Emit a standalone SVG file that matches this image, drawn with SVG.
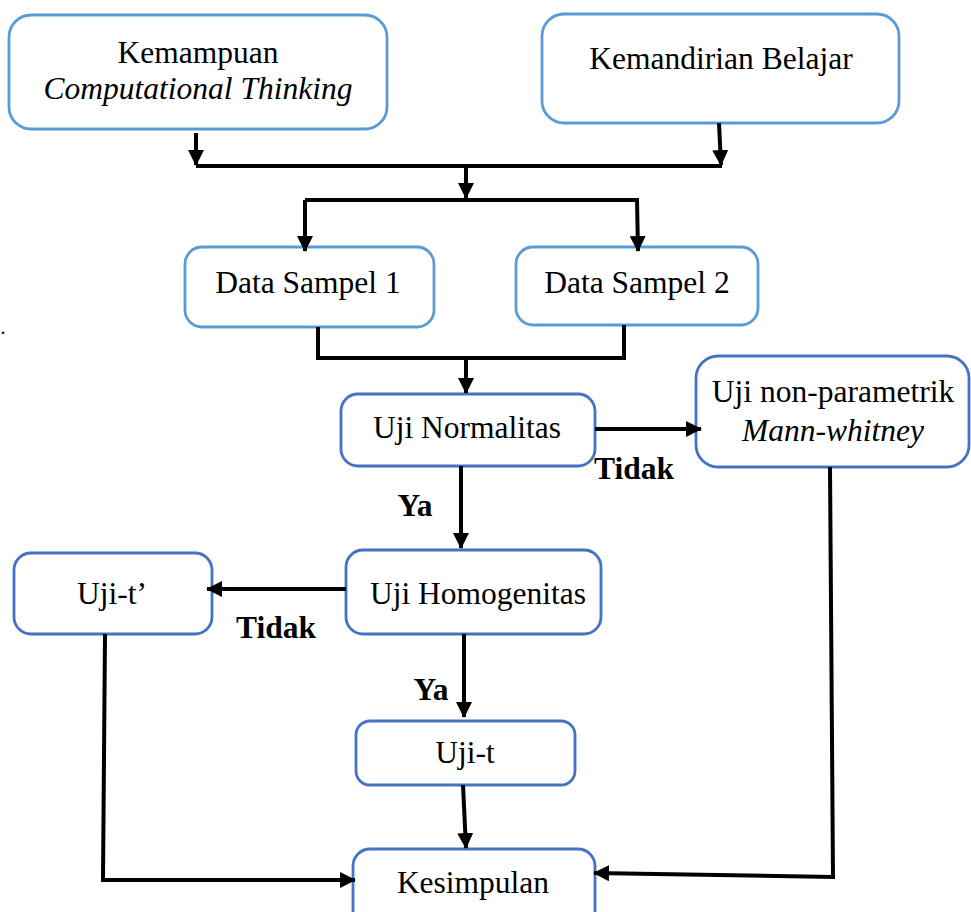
<svg xmlns="http://www.w3.org/2000/svg" width="971" height="912" viewBox="0 0 971 912">
<style>
.box{fill:#fff;stroke-width:2.8}
.lb{stroke:#5B9BD5}
.db{stroke:#4472C4}
.t{font-family:"Liberation Serif","Times New Roman",serif;font-size:31.5px;fill:#000;text-anchor:middle}
.i{font-style:italic}
.b{font-weight:bold}
.c{fill:none;stroke:#000;stroke-width:4;stroke-linejoin:miter}
</style>
<defs>
<marker id="ah" markerUnits="userSpaceOnUse" markerWidth="16" markerHeight="16" refX="15" refY="8" orient="auto" viewBox="0 0 16 16">
<path d="M0,0 L16,8 L0,16 z" fill="#000"/>
</marker>
</defs>
<rect width="971" height="912" fill="#fff"/>
<text class="t" x="3" y="334" style="font-size:20px">.</text>
<g id="n-kemampuan"><rect class="box lb" x="9" y="15" width="378" height="114" rx="22"/>
<text class="t" x="198" y="63">Kemampuan</text><text class="t i" x="198" y="99">Computational Thinking</text></g>
<g id="n-kemandirian"><rect class="box lb" x="542" y="14" width="357" height="109" rx="22"/>
<text class="t" x="721" y="69">Kemandirian Belajar</text></g>
<g id="n-ds1"><rect class="box lb" x="185" y="247" width="249" height="80" rx="17"/>
<text class="t" x="308" y="293">Data Sampel 1</text></g>
<g id="n-ds2"><rect class="box lb" x="516" y="247" width="242" height="78" rx="17"/>
<text class="t" x="637" y="293">Data Sampel 2</text></g>
<g id="n-normalitas"><rect class="box db" x="341" y="394" width="254" height="72" rx="17"/>
<text class="t" x="467" y="438">Uji Normalitas</text></g>
<g id="n-nonpar"><rect class="box db" x="696" y="356" width="273" height="111" rx="22"/>
<text class="t" x="833" y="402">Uji non-parametrik</text><text class="t i" x="833" y="441">Mann-whitney</text></g>
<g id="n-homogenitas"><rect class="box db" x="346" y="550" width="255" height="84" rx="17"/>
<text class="t" x="478" y="604">Uji Homogenitas</text></g>
<g id="n-ujit2"><rect class="box db" x="14" y="553" width="198" height="81" rx="17"/>
<text class="t" x="112" y="604">Uji-t’</text></g>
<g id="n-ujit"><rect class="box db" x="356" y="721" width="219" height="64" rx="14"/>
<text class="t" x="465" y="763">Uji-t</text></g>
<g id="n-kesimpulan"><rect class="box db" x="353" y="849" width="242" height="90" rx="17"/>
<text class="t" x="473" y="893">Kesimpulan</text></g>
<g id="connectors">
<path class="c" d="M196,133 L196,165" marker-end="url(#ah)"/>
<path class="c" d="M719,123 L721,165" marker-end="url(#ah)"/>
<path class="c" d="M196,166 L722,166"/>
<path class="c" d="M466,168 L466,198" marker-end="url(#ah)"/>
<path class="c" d="M305,200 L637,200 L638,251" marker-end="url(#ah)"/>
<path class="c" d="M305,200 L305,251" marker-end="url(#ah)"/>
<path class="c" d="M318,327 L318,358 L624,358 L624,325"/>
<path class="c" d="M466,358 L466,393" marker-end="url(#ah)"/>
<path class="c" d="M595,429 L701,429" marker-end="url(#ah)"/>
<path class="c" d="M461,466 L461,548" marker-end="url(#ah)"/>
<path class="c" d="M346,589 L207,589" marker-end="url(#ah)"/>
<path class="c" d="M464,634 L464,717" marker-end="url(#ah)"/>
<path class="c" d="M463,785 L466,848" marker-end="url(#ah)"/>
<path class="c" d="M105,634 L103,880 L355,880" marker-end="url(#ah)"/>
<path class="c" d="M830,467 L833,877 L594,873" marker-end="url(#ah)"/>
</g>
<g id="labels">
<text class="t b" x="634" y="479">Tidak</text>
<text class="t b" x="415" y="516">Ya</text>
<text class="t b" x="276" y="638">Tidak</text>
<text class="t b" x="431" y="700">Ya</text>
</g>
</svg>
